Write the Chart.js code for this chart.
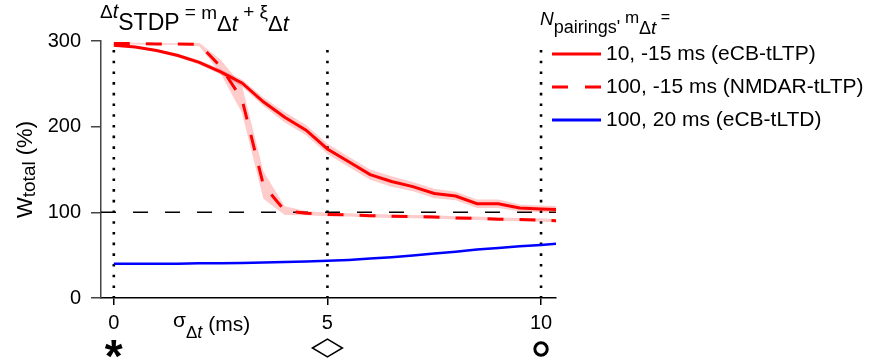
<!DOCTYPE html>
<html>
<head>
<meta charset="utf-8">
<script src="https://cdn.jsdelivr.net/npm/chart.js@4.4.0/dist/chart.umd.min.js"></script>
<style>
  html, body { margin: 0; padding: 0; background: #fff; }
</style>
</head>
<body>
<canvas id="chart" width="887" height="362"></canvas>
<script>
// jitter sigma of the pairing interval (ms)
const sigma = [0, 0.5, 1, 1.5, 2, 2.5, 3, 3.5, 4, 4.5, 5, 5.5, 6, 6.5, 7, 7.5, 8, 8.5, 9, 9.5, 10, 10.5];

// 10 pairings, -15 ms (eCB-tLTP)
const ecbLtp = [295, 293, 289, 283, 275, 264, 251, 229, 211, 196, 174, 159, 144, 136, 130, 122, 119, 110, 110, 105, 104, 103];
const ecbLtpSem = [1, 1, 1.5, 2, 2.5, 3, 4, 5, 6, 6, 6, 6, 6, 6, 5.5, 5.5, 5, 5, 5, 4, 4, 4];

// 100 pairings, -15 ms (NMDAR-tLTP)
const nmdarLtp = [297, 297, 296.5, 296.5, 296, 270, 232, 132, 102, 99, 97.5, 97, 96, 95.5, 95, 94.5, 93.5, 93, 92, 91.5, 91, 90];
const nmdarLtpSem = [1, 1, 1, 1, 2, 8, 16, 16, 5, 2.5, 2, 2, 2, 2, 2, 2, 2, 2, 2, 2, 2, 2];

// 100 pairings, 20 ms (eCB-tLTD)
const ecbLtd = [40, 40, 40, 40, 40.5, 40.5, 41, 41.5, 42, 42.5, 43.5, 44.5, 46, 47.5, 49.5, 52, 54, 56.5, 58.5, 60.5, 62, 64];

const xTicks = [0, 5, 10];
const yTicks = [0, 100, 200, 300];
const baseline = 100;
const legendLabels = ['10, -15 ms (eCB-tLTP)', '100, -15 ms (NMDAR-tLTP)', '100, 20 ms (eCB-tLTD)'];

const FAM = '"Liberation Sans", Arial, Helvetica, sans-serif';
const RED = '#ff0000';
const BLUE = '#0000ff';
const BAND = 'rgba(255, 0, 0, 0.2)';

const pts = arr => sigma.map((x, i) => ({ x: x, y: arr[i] }));
const shift = (arr, sem, sign) => arr.map((v, i) => v + sign * sem[i]);

function bandPair(arr, sem) {
    return [
        { data: pts(shift(arr, sem, 1)), borderWidth: 0, pointRadius: 0, fill: false, order: 10 },
        { data: pts(shift(arr, sem, -1)), borderWidth: 0, pointRadius: 0, fill: '-1', backgroundColor: BAND, order: 10 }
    ];
}

// run of text pieces with their own font and baseline
function drawRuns(ctx, x, runs) {
    runs.forEach(r => {
        ctx.font = r.f + ' ' + FAM;
        ctx.fillText(r.t, x, r.y);
        x += ctx.measureText(r.t).width;
    });
}

const refLines = {
    id: 'refLines',
    beforeDatasetsDraw(chart) {
        const { ctx, chartArea: a, scales: { x, y } } = chart;
        ctx.save();
        ctx.strokeStyle = '#000';
        // 100 % level
        ctx.lineWidth = 1.5;
        ctx.setLineDash([15, 17]);
        const yb = y.getPixelForValue(baseline);
        ctx.beginPath();
        ctx.moveTo(a.left, yb);
        ctx.lineTo(a.right, yb);
        ctx.stroke();
        // dotted verticals at the marked sigmas
        ctx.lineWidth = 2.6;
        ctx.setLineDash([2.6, 8.1]);
        xTicks.forEach(v => {
            const px = x.getPixelForValue(v);
            ctx.beginPath();
            ctx.moveTo(px, a.top + 9);
            ctx.lineTo(px, a.bottom);
            ctx.stroke();
        });
        ctx.restore();
    }
};

const annotations = {
    id: 'annotations',
    afterDraw(chart) {
        const { ctx, scales: { x } } = chart;
        ctx.save();
        ctx.fillStyle = '#000';
        ctx.textAlign = 'left';
        ctx.textBaseline = 'alphabetic';

        // title
        drawRuns(ctx, 100, [
            { t: 'Δ', f: '19px', y: 18 }, { t: 't', f: 'italic 20px', y: 18 },
            { t: 'STDP', f: '23px', y: 30 },
            { t: ' = ', f: '19px', y: 18 },
            { t: 'm', f: '19px', y: 19 },
            { t: 'Δ', f: '22px', y: 31 }, { t: 't', f: 'italic 22px', y: 31 },
            { t: ' + ', f: '19px', y: 18 },
            { t: 'ξ', f: '19px', y: 18 },
            { t: 'Δ', f: '22px', y: 31 }, { t: 't', f: 'italic 22px', y: 31 }
        ]);

        // legend header
        drawRuns(ctx, 540, [
            { t: 'N', f: 'italic 19px', y: 25 },
            { t: "pairings'", f: '18px', y: 33 },
            { t: ' m', f: '17px', y: 23 },
            { t: 'Δ', f: '18px', y: 34 }, { t: 't', f: 'italic 19px', y: 34 },
            { t: ' =', f: '16px', y: 22 }
        ]);

        // legend rows
        const rowY = [54, 87, 120];
        const styles = [
            { c: RED, w: 3, d: [] },
            { c: RED, w: 3, d: [16, 17] },
            { c: BLUE, w: 3, d: [] }
        ];
        legendLabels.forEach((lab, i) => {
            const s = styles[i];
            ctx.strokeStyle = s.c;
            ctx.lineWidth = s.w;
            ctx.setLineDash(s.d);
            ctx.beginPath();
            ctx.moveTo(552, rowY[i]);
            ctx.lineTo(601, rowY[i]);
            ctx.stroke();
            ctx.setLineDash([]);
            ctx.font = '21px ' + FAM;
            ctx.textBaseline = 'middle';
            ctx.fillText(lab, 606, rowY[i]);
            ctx.textBaseline = 'alphabetic';
        });

        // x title
        drawRuns(ctx, 173, [
            { t: 'σ', f: '21px', y: 327 },
            { t: 'Δ', f: '17px', y: 338 }, { t: 't', f: 'italic 18px', y: 338 },
            { t: ' (ms)', f: '21px', y: 331 }
        ]);

        // y title
        ctx.save();
        ctx.translate(32, 218);
        ctx.rotate(-Math.PI / 2);
        drawRuns(ctx, 0, [
            { t: 'W', f: '22px', y: 0 },
            { t: 'total', f: '19px', y: 3 },
            { t: ' (%)', f: '22px', y: 0 }
        ]);
        ctx.restore();

        // markers under the ticks
        const mx = xTicks.map(v => x.getPixelForValue(v));
        ctx.textAlign = 'center';
        ctx.font = 'bold 46px ' + FAM;
        ctx.fillText('*', mx[0], 372);

        ctx.strokeStyle = '#000';
        ctx.lineWidth = 1.5;
        ctx.beginPath();
        ctx.moveTo(mx[1] - 15, 348);
        ctx.lineTo(mx[1], 339);
        ctx.lineTo(mx[1] + 15, 348);
        ctx.lineTo(mx[1], 357);
        ctx.closePath();
        ctx.stroke();

        ctx.lineWidth = 3;
        ctx.beginPath();
        ctx.arc(mx[2], 349, 6.2, 0, Math.PI * 2);
        ctx.stroke();
        ctx.restore();
    }
};

new Chart(document.getElementById('chart'), {
    type: 'line',
    data: {
        datasets: [
            { data: pts(ecbLtd), borderColor: BLUE, borderWidth: 2.5, pointRadius: 0, fill: false, order: 0 },
            { data: pts(ecbLtp), borderColor: RED, borderWidth: 3, pointRadius: 0, fill: false, order: 1 },
            { data: pts(nmdarLtp), borderColor: RED, borderWidth: 3, borderDash: [16, 16], pointRadius: 0, fill: false, order: 2 },
            ...bandPair(ecbLtp, ecbLtpSem),
            ...bandPair(nmdarLtp, nmdarLtpSem)
        ]
    },
    options: {
        responsive: false,
        animation: false,
        layout: { padding: { top: 41, right: 331, left: 0, bottom: 0 } },
        plugins: { legend: { display: false }, tooltip: { enabled: false } },
        scales: {
            x: {
                type: 'linear',
                min: -0.3,
                max: 10.35,
                afterBuildTicks: s => { s.ticks = xTicks.map(v => ({ value: v })); },
                afterFit: s => { s.height = 64; },
                grid: { drawOnChartArea: false, tickLength: 7, color: '#000', lineWidth: 1.5 },
                border: { color: '#000', width: 1.5 },
                ticks: { color: '#000', font: { size: 20, family: FAM }, padding: 6, maxRotation: 0 }
            },
            y: {
                min: 0,
                max: 300,
                afterBuildTicks: s => { s.ticks = yTicks.map(v => ({ value: v })); },
                afterFit: s => { s.width = 101; },
                grid: { drawOnChartArea: false, tickLength: 10, color: '#444', lineWidth: 1.5 },
                border: { color: '#444', width: 1.5 },
                ticks: { color: '#000', font: { size: 20, family: FAM }, padding: 10 }
            }
        }
    },
    plugins: [refLines, annotations]
});
</script>
</body>
</html>
